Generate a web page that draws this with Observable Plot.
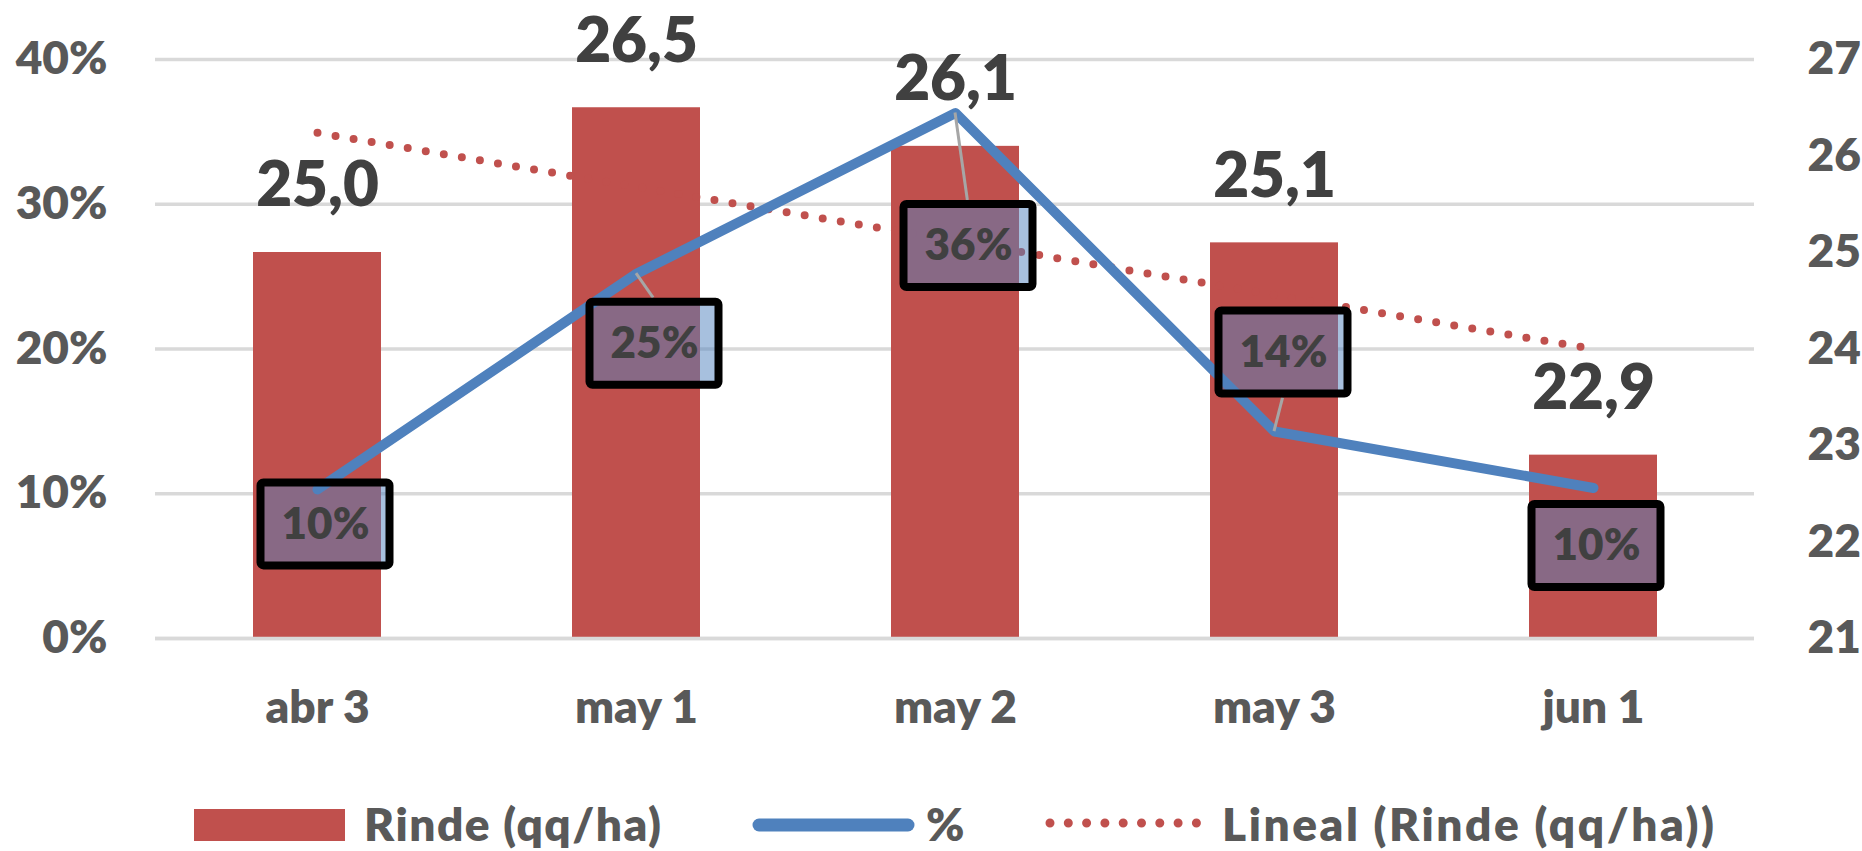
<!DOCTYPE html>
<html>
<head>
<meta charset="utf-8">
<script src="https://cdn.jsdelivr.net/npm/d3@7"></script>
<script src="https://cdn.jsdelivr.net/npm/@observablehq/plot@0.6"></script>
<style>
  html, body { margin: 0; padding: 0; background: #fff; overflow: hidden; }
  svg { display: block; }
  .lg text { font-family: Lato, sans-serif; font-weight: 800; font-size: 46px; fill: #595959; }
</style>
</head>
<body>
<div id="chart"></div>
<svg class="lg" width="1862" height="76" xmlns="http://www.w3.org/2000/svg">
  <rect x="194" y="34" width="151" height="32" fill="#C0504D"></rect>
  <text x="364" y="66" textLength="297" lengthAdjust="spacing">Rinde (qq/ha)</text>
  <line x1="759" x2="908" y1="50" y2="50" stroke="#4F81BD" stroke-width="13" stroke-linecap="round"></line>
  <text x="926" y="66">%</text>
  <line x1="1050" x2="1197" y1="48" y2="48" stroke="#C0504D" stroke-width="9" stroke-dasharray="0 18.3" stroke-linecap="round"></line>
  <text x="1222" y="66" textLength="492" lengthAdjust="spacing">Lineal (Rinde (qq/ha))</text>
</svg>
<script>
// ---- data ----
const categories = ["abr 3", "may 1", "may 2", "may 3", "jun 1"];
const rinde = [25.0, 26.5, 26.1, 25.1, 22.9];          // qq/ha (right axis)
const pct = [0.103, 0.252, 0.363, 0.143, 0.104];       // % (left axis)
const trend = [26.24, 25.68, 25.12, 24.56, 24.00];     // Lineal (Rinde)
const leftTicks = [0, 0.1, 0.2, 0.3, 0.4];
const rightTicks = [21, 22, 23, 24, 25, 26, 27];

// ---- dual axis mapping ----
const R0 = 21, R1 = 27, P1 = 0.4;
const toPct = v => (v - R0) / (R1 - R0) * P1;
const fromPct = p => R0 + p / P1 * (R1 - R0);

const rows = categories.map((cat, i) => ({cat, rinde: rinde[i], pct: pct[i], trend: trend[i]}));

// ---- label box layout (pixel nudges, Excel-style manual placement) ----
const boxNudge = [[8, 35], [18, 70], [13, 133], [9, -79], [3, 58]];
const BOX_H = 83;
const pctFmt = d3.format(".0%");
const valFmt = v => v.toFixed(1).replace(".", ",");

const W = 800;
const textStyle = {fontWeight: W, fill: "#404040"};
const axisStyle = {tickSize: 0, fontSize: 46, fontWeight: W, fill: "#595959", label: null};

function leaders(index, scales) {
  const g = d3.create("svg:g");
  const sx = scales.x, sy = scales.y;
  const half = typeof sx.bandwidth === "function" ? sx.bandwidth() / 2 : 0;
  rows.forEach((d, i) => {
    const [dx, dy] = boxNudge[i];
    if (Math.abs(dy) < BOX_H / 2 + 20) return;
    const x0 = sx(d.cat) + half, y0 = sy(d.pct);
    const y1 = y0 + dy - Math.sign(dy) * (BOX_H / 2 + 4);
    g.append("line")
      .attr("x1", x0).attr("y1", y0)
      .attr("x2", x0 + dx * 0.95).attr("y2", y1)
      .attr("stroke", "#a6a6a6").attr("stroke-width", 3);
  });
  return g.node();
}

const boxMarks = [];
rows.forEach((d, i) => {
  const [dx, dy] = boxNudge[i];
  boxMarks.push(Plot.barY([d], {
    x: "cat", y1: "pct", y2: "pct", dx, dy,
    insetTop: -BOX_H / 2, insetBottom: -BOX_H / 2, insetLeft: -0.5, insetRight: -0.5,
    fill: "#4F81BD", fillOpacity: 0.5, stroke: "#000", strokeWidth: 8, rx: 3
  }));
  boxMarks.push(Plot.text([d], {
    x: "cat", y: "pct", dx, dy, text: r => pctFmt(r.pct), fontSize: 44, ...textStyle
  }));
});

const chart = Plot.plot({
  width: 1862,
  height: 775,
  marginLeft: 155,
  marginRight: 108,
  marginTop: 59,
  marginBottom: 137,
  style: {fontFamily: "Lato, sans-serif", background: "#fff", overflow: "visible"},
  x: {domain: categories, paddingInner: 0.6, paddingOuter: 0.3, label: null},
  y: {domain: [0, P1], label: null},
  marks: [
    Plot.ruleY(leftTicks, {stroke: "#d9d9d9", strokeWidth: 3.5}),
    Plot.barY(rows, {x: "cat", y: d => toPct(d.rinde), fill: "#C0504D"}),
    Plot.ruleY([0], {stroke: "#d9d9d9", strokeWidth: 3.5}),
    Plot.axisY(leftTicks, {anchor: "left", tickPadding: 48, tickFormat: pctFmt, ...axisStyle}),
    Plot.axisY(rightTicks.map(toPct), {anchor: "right", tickPadding: 53, tickFormat: p => String(Math.round(fromPct(p))), ...axisStyle}),
    Plot.axisX({tickPadding: 52, ...axisStyle}),
    Plot.line(rows, {x: "cat", y: d => toPct(d.trend), stroke: "#C0504D", strokeWidth: 8, strokeDasharray: "0 18.3", strokeLinecap: "round"}),
    Plot.line(rows, {x: "cat", y: "pct", stroke: "#4F81BD", strokeWidth: 10, strokeLinecap: "round", strokeLinejoin: "round"}),
    leaders,
    ...boxMarks,
    Plot.text(rows, {x: "cat", y: d => toPct(d.rinde), text: d => valFmt(d.rinde), dy: -66, fontSize: 62, ...textStyle})
  ]
});
document.getElementById("chart").appendChild(chart);
</script>
</body>
</html>
